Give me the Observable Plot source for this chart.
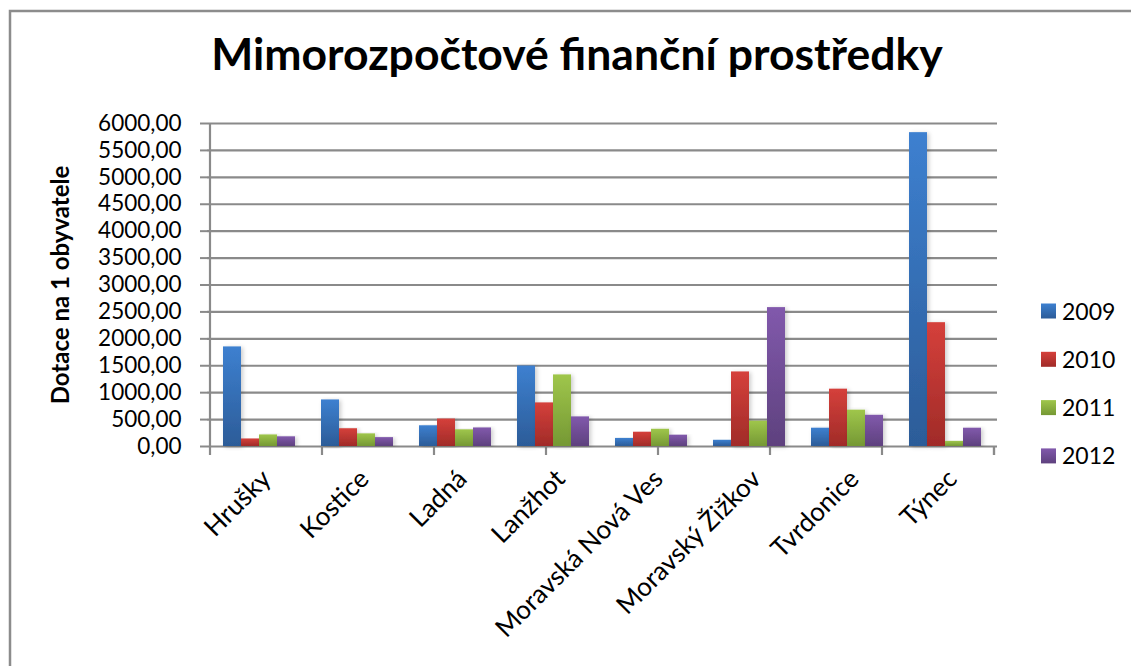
<!DOCTYPE html>
<html><head><meta charset="utf-8">
<script src="https://cdn.jsdelivr.net/npm/d3@7"></script>
<script src="https://cdn.jsdelivr.net/npm/@observablehq/plot@0.6"></script>
<style>
html,body{margin:0;background:#fff;font-family:Lato,sans-serif;overflow:hidden}
#wrap{position:relative;width:1131px;height:666px;overflow:hidden;background:#fff}
.layer{position:absolute;left:0;top:0}
#overlay{position:absolute;left:0;top:0;pointer-events:none}
</style></head><body>
<div id="wrap"><div id="grid" class="layer"></div><div id="chart" class="layer"></div><svg id="overlay" width="1131" height="666"></svg></div>
<script>
const title = "Mimorozpočtové finanční prostředky";
const yLabel = "Dotace na 1 obyvatele";
const categories = ["Hrušky","Kostice","Ladná","Lanžhot","Moravská Nová Ves","Moravský Žižkov","Tvrdonice","Týnec"];
const years = ["2009","2010","2011","2012"];
const v2009 = [1850, 865, 385, 1495, 150, 115, 340, 5830];
const v2010 = [140, 330, 510, 810, 265, 1385, 1065, 2300];
const v2011 = [215, 235, 310, 1330, 320, 470, 675, 95];
const v2012 = [180, 165, 345, 550, 210, 2580, 580, 340];
const yTicks = [0,500,1000,1500,2000,2500,3000,3500,4000,4500,5000,5500,6000];
const colors = {
  "2009": ["#3d80d0", "#2c5c98"],
  "2010": ["#d5403b", "#a02b28"],
  "2011": ["#9fc64b", "#759834"],
  "2012": ["#8159ac", "#5e417e"]
};

const series = [v2009, v2010, v2011, v2012];
const data = categories.flatMap((c, i) => years.map((yr, j) => ({category: c, year: yr, value: series[j][i]})));
const fmt = d => d.toFixed(2).replace(".", ",");

const common = {
  width: 1131, height: 666,
  marginLeft: 207, marginRight: 134, marginTop: 123, marginBottom: 220,
  style: {fontFamily: "Lato, sans-serif", background: "transparent", overflow: "visible", color: "#000"}
};

// Layer 1: gridlines and y axis
const grid = Plot.plot({
  ...common,
  x: {domain: categories, padding: 0, axis: null},
  y: {domain: [0, 6000], axis: null},
  marks: [
    Plot.ruleY(yTicks, {y: d => d, stroke: "#8a8a8a", strokeWidth: 2.2, strokeOpacity: 1}),
    Plot.axisY({ticks: yTicks, tickSize: 7, tickPadding: 19, tickFormat: fmt, fontSize: 22.5, stroke: "#8a8a8a", strokeWidth: 2, strokeOpacity: 1, label: null})
  ]
});
document.getElementById("grid").appendChild(grid);
{
  const g = d3.select(grid);
  const xs = grid.scale("x"), ys = grid.scale("y");
  const y0 = ys.apply(0), yTop = ys.apply(6000);
  const bounds = categories.map(c => xs.apply(c));
  bounds.push(xs.apply(categories[categories.length - 1]) + xs.bandwidth);
  const ax = g.append("g").attr("stroke", "#8a8a8a").attr("stroke-width", 2.2);
  ax.append("line").attr("x1", bounds[0]).attr("x2", bounds[0]).attr("y1", yTop).attr("y2", y0 + 1);
  for (const b of bounds) ax.append("line").attr("x1", b).attr("x2", b).attr("y1", y0).attr("y2", y0 + 9);
}

// Layer 2: bars and category labels
const chart = Plot.plot({
  ...common,
  fx: {domain: categories, paddingInner: 0.27, paddingOuter: 0.135, axis: null},
  x: {domain: years, padding: 0, axis: null},
  y: {domain: [0, 6000], axis: null},
  color: {domain: years, range: years.map(y => `url(#grad${y})`)},
  marks: [
    Plot.barY(data, {fx: "category", x: "year", y: "value", fill: "year"}),
    Plot.text(categories, {fx: d => d, text: d => d, frameAnchor: "bottom", rotate: -45, textAnchor: "end", lineAnchor: "bottom", dx: 13, dy: 34, fontSize: 26, fill: "#000"})
  ]
});
document.getElementById("chart").appendChild(chart);
{
  const svg = d3.select(chart);
  const defs = svg.insert("defs", ":first-child");
  for (const yr of years) {
    const g = defs.append("linearGradient").attr("id", "grad" + yr).attr("x1", 0).attr("y1", 0).attr("x2", 0).attr("y2", 1);
    g.append("stop").attr("offset", "0%").attr("stop-color", colors[yr][0]);
    g.append("stop").attr("offset", "100%").attr("stop-color", colors[yr][1]);
  }
  const f = defs.append("filter").attr("id", "shadow").attr("x", "-20%").attr("y", "-5%").attr("width", "160%").attr("height", "110%");
  f.append("feDropShadow").attr("dx", 2).attr("dy", 1).attr("stdDeviation", 2).attr("flood-color", "#000").attr("flood-opacity", 0.2);
  svg.selectAll("rect").filter(function () {
    const a = this.getAttribute("fill") || "", b = this.parentNode.getAttribute("fill") || "";
    return a.startsWith("url(") || b.startsWith("url(");
  }).attr("filter", "url(#shadow)");
}

// Overlay: chart-area border, title, y label, legend
const ov = d3.select("#overlay");
ov.append("path").attr("d", "M10,666V11H1131").attr("fill", "none").attr("stroke", "#8c8c8c").attr("stroke-width", 2.5);
ov.append("text").attr("x", 577).attr("y", 70).attr("text-anchor", "middle")
  .attr("font-family", "Lato, sans-serif").attr("font-weight", "bold").attr("font-size", 44.5).text(title);
ov.append("text").attr("transform", "translate(69,285) rotate(-90)").attr("text-anchor", "middle")
  .attr("font-family", "Lato, sans-serif").attr("font-weight", "bold").attr("font-size", 24).text(yLabel);
const odefs = ov.append("defs");
for (const yr of years) {
  const g = odefs.append("linearGradient").attr("id", "lgrad" + yr).attr("x1", 0).attr("y1", 0).attr("x2", 0).attr("y2", 1);
  g.append("stop").attr("offset", "0%").attr("stop-color", colors[yr][0]);
  g.append("stop").attr("offset", "100%").attr("stop-color", colors[yr][1]);
}
years.forEach((yr, i) => {
  const cy = 311 + i * 48.3;
  ov.append("rect").attr("x", 1041).attr("y", cy - 7.5).attr("width", 15).attr("height", 15).attr("fill", `url(#lgrad${yr})`);
  ov.append("text").attr("x", 1062).attr("y", cy + 8.5).attr("font-family", "Lato, sans-serif").attr("font-size", 23).text(yr);
});
</script>
</body></html>
